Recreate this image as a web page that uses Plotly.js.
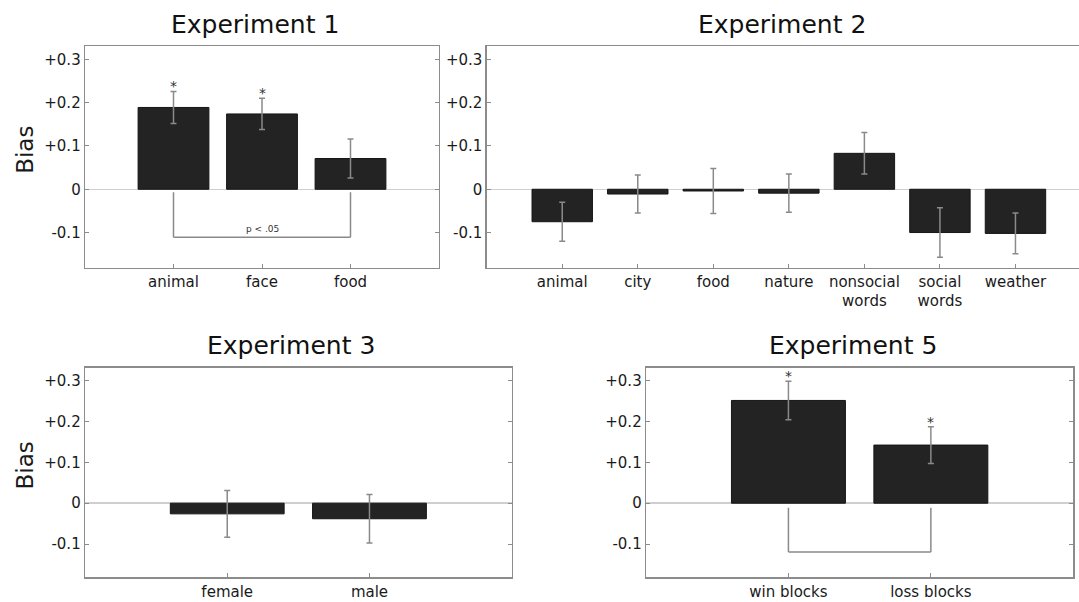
<!DOCTYPE html>
<html>
<head>
<meta charset="utf-8">
<script src="https://cdn.plot.ly/plotly-3.0.1.min.js"></script>
<style>
html, body { margin: 0; padding: 0; overflow: hidden; background: #fff; }
#chart { width: 1095px; height: 602px; }
</style>
</head>
<body>
<div id="chart"></div>
<script>
// ---------- data ----------
const exp1Cats = ['animal', 'face', 'food'];
const exp1Vals = [0.189, 0.174, 0.071];
const exp1Errs = [0.037, 0.036, 0.045];
const exp1Sig = [true, true, false];

const exp2Cats = ['animal', 'city', 'food', 'nature', 'nonsocial<br>words', 'social<br>words', 'weather'];
const exp2Vals = [-0.075, -0.011, -0.004, -0.009, 0.083, -0.100, -0.102];
const exp2Errs = [0.045, 0.044, 0.052, 0.044, 0.048, 0.057, 0.047];
const exp2Sig = [false, false, false, false, false, false, false];

const exp3Cats = ['female', 'male'];
const exp3Vals = [-0.026, -0.038];
const exp3Errs = [0.057, 0.059];
const exp3Sig = [false, false];

const exp5Cats = ['win blocks', 'loss blocks'];
const exp5Vals = [0.251, 0.142];
const exp5Errs = [0.047, 0.045];
const exp5Sig = [true, true];

const yTickVals = [0.3, 0.2, 0.1, 0, -0.1];
const yTickText = ['+0.3', '+0.2', '+0.1', '0', '-0.1'];

const panelTitles = ['Experiment 1', 'Experiment 2', 'Experiment 3', 'Experiment 5'];
const yLabel = 'Bias';

// comparison brackets: [from category, to category, top, bottom, label]
const bracket1 = ['animal', 'food', -0.007, -0.111, 'p < .05'];
const bracket5 = ['win blocks', 'loss blocks', -0.011, -0.119, ''];

// ---------- layout helpers ----------
const W = 1095, H = 602;
const FONT = 'DejaVu Sans, Verdana, sans-serif';
const BAR = '#232323', ERR = '#8a8a8a', AXC = '#8c8c8c', TXT = '#1a1a1a';
const fx = (a, b) => [a / W, b / W];
const fy = (top, bottom) => [1 - bottom / H, 1 - top / H];

const boxes = [
  {x: fx(85, 439), y: fy(46, 267.6), xr: [-1, 3]},
  {x: fx(486.7, 1091), y: fy(46, 267.6), xr: [-1, 7]},
  {x: fx(85, 511.7), y: fy(367.7, 577.3), xr: [-1, 2]},
  {x: fx(646, 1073.3), y: fy(367.7, 577.3), xr: [-1, 2]}
];
const yRange = [-0.181, 0.331];

const sets = [
  [exp1Cats, exp1Vals, exp1Errs, exp1Sig],
  [exp2Cats, exp2Vals, exp2Errs, exp2Sig],
  [exp3Cats, exp3Vals, exp3Errs, exp3Sig],
  [exp5Cats, exp5Vals, exp5Errs, exp5Sig]
];

const traces = [];
const annotations = [];
const shapes = [];
const layout = {
  width: W, height: H,
  margin: {l: 0, r: 0, t: 0, b: 0},
  paper_bgcolor: '#fff', plot_bgcolor: '#fff',
  showlegend: false,
  font: {family: FONT, color: TXT, size: 15},
  annotations: annotations,
  shapes: shapes
};

sets.forEach((s, i) => {
  const n = i === 0 ? '' : String(i + 1);
  const [cats, vals, errs, sig] = s;
  traces.push({
    type: 'bar', x: cats, y: vals, width: 0.8,
    xaxis: 'x' + n, yaxis: 'y' + n,
    marker: {color: BAR, line: {color: '#151515', width: 1}},
    error_y: {type: 'data', array: errs, visible: true, color: ERR, thickness: 1.5, width: 3},
    hoverinfo: 'x+y'
  });
  layout['xaxis' + n] = {
    domain: boxes[i].x, anchor: 'y' + n, type: 'category',
    range: boxes[i].xr, showgrid: false, zeroline: false,
    showline: true, linecolor: AXC, linewidth: 1.3, mirror: true,
    ticks: 'inside', ticklen: 4, tickcolor: AXC, tickwidth: 1,
    tickfont: {family: FONT, size: 15, color: TXT}, fixedrange: true
  };
  layout['yaxis' + n] = {
    domain: boxes[i].y, anchor: 'x' + n, range: yRange,
    tickvals: yTickVals, ticktext: yTickText,
    showgrid: false, zeroline: true, zerolinecolor: '#cfcfcf', zerolinewidth: 1.5,
    showline: true, linecolor: AXC, linewidth: 1.3, mirror: 'ticks',
    ticks: 'inside', ticklen: 4, tickcolor: AXC, tickwidth: 1,
    tickfont: {family: FONT, size: 15, color: TXT}, fixedrange: true
  };
  // y-axis label "Bias" for the left column
  if (i === 0 || i === 2) {
    const midPx = (1 - (boxes[i].y[0] + boxes[i].y[1]) / 2) * H - 7;
    annotations.push({
      xref: 'paper', yref: 'paper', x: 25 / W, y: 1 - midPx / H,
      xanchor: 'center', yanchor: 'middle', textangle: -90, showarrow: false,
      text: yLabel, font: {family: FONT, size: 23, color: TXT}
    });
  }
  // titles
  annotations.push({
    xref: 'paper', yref: 'paper',
    x: (boxes[i].x[0] + boxes[i].x[1]) / 2 - 7 / W,
    y: boxes[i].y[1] + (i < 2 ? 21 : 22) / H,
    xanchor: 'center', yanchor: 'middle', showarrow: false,
    text: panelTitles[i], font: {family: FONT, size: 25, color: '#111'}
  });
  // significance stars
  cats.forEach((c, k) => {
    if (sig[k]) {
      annotations.push({
        xref: 'x' + n, yref: 'y' + n, x: k, y: vals[k] + errs[k],
        xanchor: 'center', yanchor: 'bottom', yshift: -5, showarrow: false,
        text: '*', font: {family: FONT, size: 14, color: '#333'}
      });
    }
  });
});

function addBracket(b, cats, n) {
  const a = cats.indexOf(b[0]), c = cats.indexOf(b[1]);
  const ln = {color: ERR, width: 1.5};
  shapes.push({type: 'line', xref: 'x' + n, yref: 'y' + n, x0: a, x1: a, y0: b[2], y1: b[3], line: ln});
  shapes.push({type: 'line', xref: 'x' + n, yref: 'y' + n, x0: c, x1: c, y0: b[2], y1: b[3], line: ln});
  shapes.push({type: 'line', xref: 'x' + n, yref: 'y' + n, x0: a, x1: c, y0: b[3], y1: b[3], line: ln});
  if (b[4]) {
    annotations.push({
      xref: 'x' + n, yref: 'y' + n, x: (a + c) / 2, y: b[3],
      xanchor: 'center', yanchor: 'bottom', yshift: 1, showarrow: false,
      text: b[4], font: {family: FONT, size: 9, color: '#333'}
    });
  }
}
addBracket(bracket1, exp1Cats, '');
addBracket(bracket5, exp5Cats, '4');

Plotly.newPlot('chart', traces, layout, {staticPlot: true, displayModeBar: false});
</script>
</body>
</html>
